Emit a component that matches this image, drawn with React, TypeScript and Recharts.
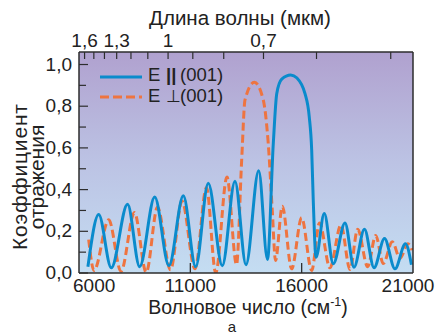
import { LineChart, Line, XAxis, YAxis, CartesianGrid } from "recharts";

// E || (001): wavenumber (cm-1) and reflectance
const parWavenumber = [
  6400, 6885, 7450, 8180, 8725, 9400, 10040, 10685, 11240, 11805, 12435, 13005,
  13500, 14070, 14465, 14725, 14880, 15105, 15510, 15790, 16150, 16340, 16450,
  16520, 16645, 17015, 17420, 17945, 18350, 18820, 19250, 19720, 20190, 20660,
  20930,
];
const parReflect = [
  0.03, 0.28, 0.025, 0.33, 0.03, 0.365, 0.035, 0.37, 0.03, 0.43, 0.035, 0.44,
  0.04, 0.49, 0.065, 0.62, 0.86, 0.93, 0.95, 0.935, 0.86, 0.75, 0.59, 0.35,
  0.075, 0.285, 0.044, 0.24, 0.028, 0.21, 0.025, 0.165, 0.02, 0.14, 0.04,
];

// E ⊥ (001)
const perpWavenumber = [
  6435, 6675, 7335, 7885, 8490, 9020, 9525, 10110, 10625, 11210, 11725, 12140,
  12645, 13075, 13305, 13455, 13875, 14275, 14500, 14680, 14825, 15130, 15550,
  16000, 16450, 16800, 17270, 17765, 18170, 18515, 18965, 19325, 19665, 20070,
  20415, 20775, 20955,
];
const perpReflect = [
  0.16, 0.012, 0.255, 0.008, 0.29, 0.003, 0.315, 0.015, 0.345, 0.02, 0.41, 0.0,
  0.46, 0.04, 0.54, 0.83, 0.915, 0.83, 0.62, 0.3, 0.06, 0.32, 0.02, 0.265,
  0.012, 0.24, 0.025, 0.23, 0.017, 0.21, 0.03, 0.18, 0.045, 0.15, 0.07, 0.14,
  0.11,
];

const bottomTicks = [6000, 11000, 16000, 21000];
const leftTicks = [0, 0.1, 0.2, 0.3, 0.4, 0.5, 0.6, 0.7, 0.8, 0.9, 1.0];
const topWavelengths = [1.6, 1.5, 1.4, 1.3, 1.2, 1.1, 1, 0.9, 0.8, 0.7, 0.6, 0.5];
const topLabeled = [1.6, 1.3, 1, 0.7];

const parData = parWavenumber.map((w, i) => ({ w, r: parReflect[i] }));
const perpData = perpWavenumber.map((w, i) => ({ w, r: perpReflect[i] }));

const BLUE = "#0a8bcc";
const ORANGE = "#ee7440";
const FRAME = "#2d2d2d";
const FONT = "'Liberation Sans', Arial, sans-serif";
const TXT = "#222";
const TICK_FS = 19;
const TITLE_FS = 19.5;
const LEG_FS = 18.5;

const comma = (v: number, d: number) => v.toFixed(d).replace(".", ",");

function BottomTick(props: any) {
  const { x, y, payload } = props;
  const v = payload.value;
  const first = v === bottomTicks[0];
  const last = v === bottomTicks[bottomTicks.length - 1];
  // end labels sit inside the frame, like the original
  const tx = first ? x - 6 : last ? x - 5 : x;
  const anchor = first ? "start" : "middle";
  return (
    <g>
      {!first && !last && (
        <line x1={x} y1={y} x2={x} y2={y - 10} stroke={FRAME} strokeWidth={1.3} />
      )}
      <text x={tx} y={y + 19} textAnchor={anchor} fontFamily={FONT} fontSize={TICK_FS} fill={TXT}>
        {v}
      </text>
    </g>
  );
}

function TopTick(props: any) {
  const { x, y, payload } = props;
  const lam = 10000 / payload.value;
  const label = topLabeled.find((l) => Math.abs(l - lam) < 0.01);
  return (
    <g>
      <line x1={x} y1={y} x2={x} y2={y + 7} stroke={FRAME} strokeWidth={1.2} />
      {label !== undefined && (
        <text x={x} y={y - 5} textAnchor="middle" fontFamily={FONT} fontSize={TICK_FS} fill={TXT}>
          {String(label).replace(".", ",")}
        </text>
      )}
    </g>
  );
}

function LeftTick(props: any) {
  const { x, y, payload } = props;
  const v = payload.value;
  const major = Math.round(v * 10) % 2 === 0;
  return (
    <g>
      <line x1={x} y1={y} x2={x + (major ? 9 : 7)} y2={y} stroke={FRAME} strokeWidth={1.2} />
      {major && (
        <text x={x - 7} y={y + 6} textAnchor="end" fontFamily={FONT} fontSize={TICK_FS} fill={TXT}>
          {comma(v, 1)}
        </text>
      )}
    </g>
  );
}

export default function App() {
  return (
    <div>
      <style>{"body{margin:0}"}</style>
      <LineChart
        width={439}
        height={335}
        margin={{ top: 51, right: 25, bottom: 61, left: 78 }}
      >
        <defs>
          <linearGradient id="bgGrad" x1="0" y1="0" x2="0" y2="1">
            <stop offset="0%" stopColor="#b0a1cf" />
            <stop offset="50%" stopColor="#bcc3e4" />
            <stop offset="100%" stopColor="#c4ddf2" />
          </linearGradient>
        </defs>
        <CartesianGrid
          xAxisId="b"
          yAxisId="l"
          horizontal={false}
          vertical={false}
          fill="url(#bgGrad)"
          fillOpacity={1}
        />
        <XAxis
          xAxisId="b"
          type="number"
          dataKey="w"
          domain={[6000, 21000]}
          ticks={bottomTicks}
          interval={0}
          height={1}
          tickSize={0}
          tickMargin={0}
          tickLine={false}
          axisLine={{ stroke: FRAME, strokeWidth: 1.5 }}
          tick={BottomTick}
          allowDataOverflow
        />
        <XAxis
          xAxisId="t"
          orientation="top"
          type="number"
          dataKey="w"
          domain={[6000, 21000]}
          ticks={topWavelengths.map((l) => 10000 / l)}
          interval={0}
          height={1}
          tickSize={0}
          tickMargin={0}
          tickLine={false}
          axisLine={{ stroke: FRAME, strokeWidth: 1.5 }}
          tick={TopTick}
          allowDataOverflow
        />
        <YAxis
          yAxisId="l"
          type="number"
          domain={[0, 1.06]}
          ticks={leftTicks}
          interval={0}
          width={1}
          tickSize={0}
          tickMargin={0}
          tickLine={false}
          axisLine={{ stroke: FRAME, strokeWidth: 1.5 }}
          tick={LeftTick}
          allowDataOverflow
        />
        <YAxis
          yAxisId="r"
          orientation="right"
          type="number"
          domain={[0, 1.06]}
          width={1}
          tick={false}
          tickLine={false}
          axisLine={{ stroke: FRAME, strokeWidth: 1.5 }}
        />
        <Line
          xAxisId="b"
          yAxisId="l"
          data={perpData}
          dataKey="r"
          type="monotone"
          stroke={ORANGE}
          strokeWidth={3}
          strokeDasharray="8 4"
          dot={false}
          isAnimationActive={false}
        />
        <Line
          xAxisId="b"
          yAxisId="l"
          data={parData}
          dataKey="r"
          type="monotone"
          stroke={BLUE}
          strokeWidth={3}
          dot={false}
          isAnimationActive={false}
        />
        {/* legend */}
        <line x1={100} y1={77} x2={142} y2={77} stroke={BLUE} strokeWidth={3} />
        <text x={148} y={80.5} fontFamily={FONT} fontSize={LEG_FS} fill={TXT}>E</text>
        <text x={166} y={80.5} fontFamily={FONT} fontSize={LEG_FS} fontWeight="bold" fill={TXT}>||</text>
        <text x={180} y={80.5} fontFamily={FONT} fontSize={LEG_FS} fill={TXT}>(001)</text>
        <line x1={100} y1={97} x2={142} y2={97} stroke={ORANGE} strokeWidth={3} strokeDasharray="9 4" />
        <text x={148} y={101.5} fontFamily={FONT} fontSize={LEG_FS} fill={TXT}>E</text>
        <text x={166} y={101.5} fontFamily={FONT} fontSize={17} fill={TXT}>{"\u22a5"}</text>
        <text x={180} y={101.5} fontFamily={FONT} fontSize={LEG_FS} fill={TXT}>(001)</text>
        <text x={240} y={25} textAnchor="middle" fontFamily={FONT} fontSize={TITLE_FS + 1} fill={TXT}>
          Длина волны (мкм)
        </text>
        <text x={248} y={313.5} textAnchor="middle" fontFamily={FONT} fontSize={TITLE_FS} fill={TXT}>
          Волновое число (см
          <tspan fontSize={12.5} dy={-8}>-1</tspan>
          <tspan dy={8}>)</tspan>
        </text>
        <text x={232} y={332} textAnchor="middle" fontFamily={FONT} fontSize={15} fill={TXT}>
          а
        </text>
        <text
          transform="translate(27,177) rotate(-90)"
          textAnchor="middle"
          fontFamily={FONT}
          fontSize={21}
          fill={TXT}
          textLength={146}
          lengthAdjust="spacing"
        >
          Коэффициент
        </text>
        <text
          transform="translate(44,177) rotate(-90)"
          textAnchor="middle"
          fontFamily={FONT}
          fontSize={21}
          fill={TXT}
        >
          отражения
        </text>
      </LineChart>
    </div>
  );
}
